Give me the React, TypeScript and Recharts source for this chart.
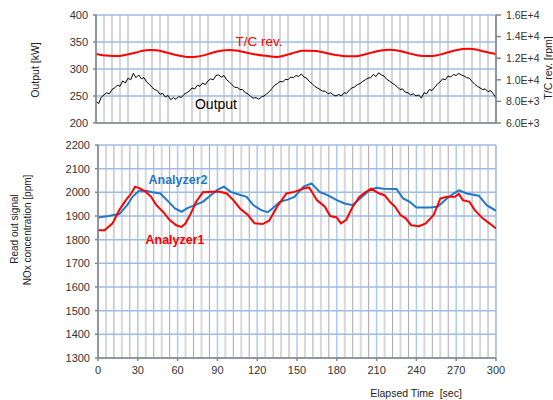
import React from 'react';
import { LineChart, Line, XAxis, YAxis, CartesianGrid } from 'recharts';

const FONT = '"Liberation Sans", Arial, Helvetica, sans-serif';

// ---- tick / grid positions (seconds, values) ----
const timeTicks = [0, 30, 60, 90, 120, 150, 180, 210, 240, 270, 300];
const minorLightTimes = [6, 18, 36, 48, 66, 78, 96, 108, 126, 138, 156, 168, 186, 198, 216, 228, 246, 258, 276, 288];
const minorDarkTimes = [12, 24, 42, 54, 72, 84, 102, 114, 132, 144, 162, 174, 192, 204, 222, 234, 252, 264, 282, 294];
const outputTicks = [200, 250, 300, 350, 400];
const rpmTicks = [6000, 8000, 10000, 12000, 14000, 16000];
const rpmTickLabels = ['6.0E+3', '8.0E+3', '1.0E+4', '1.2E+4', '1.4E+4', '1.6E+4'];
const noxTicks = [1300, 1400, 1500, 1600, 1700, 1800, 1900, 2000, 2100, 2200];

// ---- top chart: Output [kW], sampled every 2 s ----
const outputStep = 2;
const outputValues = [
  240, 236, 248, 252, 256, 254, 262, 265, 270, 268,
  278, 274, 283, 280, 292, 284, 289, 282, 284, 276,
  272, 266, 262, 260, 253, 255, 248, 251, 243, 247,
  244, 249, 247, 253, 256, 259, 265, 263, 270, 268,
  274, 271, 278, 282, 280, 288, 289, 285, 288, 280,
  276, 271, 266, 266, 262, 262, 256, 254, 249, 246,
  247, 244, 248, 250, 254, 258, 264, 270, 273, 277,
  276, 281, 280, 285, 284, 288, 286, 291, 285, 283,
  277, 273, 268, 265, 262, 259, 259, 254, 256, 252,
  250, 253, 250, 256, 255, 261, 265, 267, 271, 273,
  277, 280, 283, 284, 290, 286, 293, 289, 287, 281,
  278, 274, 271, 267, 262, 263, 257, 256, 252, 254,
  250, 252, 246, 256, 254, 262, 260, 266, 272, 276,
  282, 280, 287, 285, 290, 288, 292, 289, 287, 284,
  283, 277, 272, 268, 265, 262, 263, 258, 260, 254,
  246,
];

// ---- top chart: T/C rev. [rpm], sampled every 5 s ----
const tcRevStep = 5;
const tcRevValues = [
  12390, 12280, 12220, 12200, 12250, 12380, 12520, 12680, 12760, 12740,
  12620, 12450, 12300, 12180, 12110, 12130, 12240, 12420, 12600, 12720,
  12760, 12720, 12600, 12460, 12340, 12240, 12170, 12120, 12200, 12380,
  12560, 12680, 12700, 12660, 12560, 12420, 12300, 12210, 12170, 12190,
  12300, 12460, 12620, 12740, 12790, 12740, 12600, 12440, 12300, 12210,
  12200, 12260, 12400, 12580, 12740, 12850, 12880, 12800, 12640, 12500,
  12390,
];

// ---- bottom chart: NOx analyzers [ppm] ----
const analyzer1Times = [0, 5, 11, 16, 21, 25, 28, 32, 36, 40, 44, 49, 54, 59, 63, 66, 70, 74, 79, 87, 92, 97, 102, 107, 113, 118, 124, 129, 135, 142, 148, 155, 159, 162, 165, 171, 175, 180, 183, 187, 192, 197, 202, 206, 212, 216, 220, 224, 228, 232, 236, 242, 247, 253, 258, 263, 269, 272, 275, 280, 284, 290, 295, 300];
const analyzer1Values = [1840, 1840, 1869, 1925, 1967, 1995, 2024, 2016, 2002, 1981, 1946, 1918, 1883, 1861, 1854, 1869, 1911, 1960, 2000, 2002, 2002, 1995, 1967, 1932, 1904, 1869, 1866, 1880, 1939, 1995, 2002, 2016, 2021, 1995, 1967, 1939, 1900, 1894, 1869, 1883, 1939, 1981, 2002, 2015, 1995, 1988, 1960, 1939, 1904, 1890, 1861, 1857, 1869, 1904, 1974, 1981, 1981, 1993, 1967, 1960, 1925, 1890, 1869, 1847];
const analyzer2Times = [0, 8, 16, 22, 26, 31, 36, 41, 47, 52, 58, 63, 67, 73, 79, 85, 90, 95, 100, 105, 112, 117, 123, 128, 133, 137, 143, 148, 155, 161, 167, 173, 180, 186, 192, 199, 205, 210, 215, 225, 230, 235, 240, 250, 256, 263, 268, 272, 278, 287, 293, 300];
const analyzer2Values = [1894, 1900, 1908, 1946, 1981, 2007, 2007, 2000, 1995, 1967, 1932, 1918, 1932, 1946, 1960, 1988, 2010, 2024, 2002, 1993, 1981, 1946, 1925, 1916, 1939, 1960, 1969, 1981, 2024, 2038, 2002, 1988, 1967, 1953, 1946, 1981, 2010, 2019, 2015, 2014, 1974, 1960, 1936, 1936, 1939, 1974, 1995, 2008, 1995, 1986, 1946, 1922];

const outputData = outputValues.map((v, i) => ({ t: i * outputStep, v }));
const tcRevData = tcRevValues.map((v, i) => ({ t: i * tcRevStep, v }));
const analyzer1Data = analyzer1Values.map((v, i) => ({ t: analyzer1Times[i], v }));
const analyzer2Data = analyzer2Values.map((v, i) => ({ t: analyzer2Times[i], v }));

const AXIS = '#868686';
const GRID_H = '#9bbde6';
const GRID_MAJOR = '#afcbeb';
const GRID_LIGHT = '#d8d8d8';
const GRID_DARK = '#a9a9a9';
const TICK = { fill: '#333', fontSize: 11, fontFamily: FONT };

const rpmFmt = (v: number) => {
  const i = rpmTicks.indexOf(v);
  return i >= 0 ? rpmTickLabels[i] : String(v);
};

export default function App() {
  return (
    <div style={{ position: 'absolute', left: 0, top: 0, width: 553, height: 400, background: '#fff', fontFamily: FONT }}>
      <div style={{ position: 'absolute', left: 0, top: 0 }}>
        <LineChart width={553} height={140} margin={{ top: 15, right: 7, bottom: 15, left: 46 }}>
          <XAxis xAxisId="minA" type="number" dataKey="t" domain={[0, 300]} ticks={minorLightTimes} interval={0} hide allowDataOverflow />
          <XAxis xAxisId="minB" type="number" dataKey="t" domain={[0, 300]} ticks={minorDarkTimes} interval={0} hide allowDataOverflow />
          <CartesianGrid xAxisId="minA" yAxisId="left" horizontal={false} stroke={GRID_LIGHT} strokeWidth={2} />
          <CartesianGrid xAxisId="minB" yAxisId="left" horizontal={false} stroke={GRID_DARK} strokeWidth={1} />
          <CartesianGrid xAxisId={0} yAxisId="left" horizontal={false} stroke={GRID_MAJOR} strokeWidth={1.5} />
          <CartesianGrid xAxisId={0} yAxisId="left" vertical={false} stroke={GRID_H} strokeWidth={1.5} />
          <XAxis xAxisId={0} type="number" dataKey="t" domain={[0, 300]} ticks={timeTicks} interval={0} tick={false} tickLine={false} height={2} stroke={AXIS} strokeWidth={1.5} allowDataOverflow />
          <XAxis xAxisId="top" orientation="top" type="number" dataKey="t" domain={[0, 300]} ticks={timeTicks} interval={0} tick={false} tickLine={false} height={0} stroke={AXIS} strokeWidth={1.5} allowDataOverflow />
          <YAxis yAxisId="left" type="number" domain={[200, 400]} ticks={outputTicks} interval={0} width={50} tickSize={3} tickMargin={5} tick={TICK} stroke={AXIS} strokeWidth={1.5} allowDataOverflow />
          <YAxis yAxisId="right" orientation="right" type="number" domain={[6000, 16000]} ticks={rpmTicks} interval={0} tickFormatter={rpmFmt} width={50} tickSize={5} tickMargin={5} tick={{ ...TICK, fontSize: 10.5 }} stroke={AXIS} strokeWidth={1.5} allowDataOverflow />
          <Line xAxisId={0} yAxisId="right" data={tcRevData} dataKey="v" type="monotone" stroke="#ff0000" strokeWidth={2} dot={false} isAnimationActive={false} />
          <Line xAxisId={0} yAxisId="left" data={outputData} dataKey="v" type="linear" stroke="#000000" strokeWidth={1} dot={false} isAnimationActive={false} />
        </LineChart>
      </div>
      <div style={{ position: 'absolute', left: 0, top: 130 }}>
        <LineChart width={553} height={270} margin={{ top: 15, right: 57, bottom: 12, left: 48 }}>
          <XAxis xAxisId="minA" type="number" dataKey="t" domain={[0, 300]} ticks={minorLightTimes} interval={0} hide allowDataOverflow />
          <XAxis xAxisId="minB" type="number" dataKey="t" domain={[0, 300]} ticks={minorDarkTimes} interval={0} hide allowDataOverflow />
          <CartesianGrid xAxisId="minA" yAxisId={0} horizontal={false} stroke={GRID_LIGHT} strokeWidth={2} />
          <CartesianGrid xAxisId="minB" yAxisId={0} horizontal={false} stroke={GRID_DARK} strokeWidth={1} />
          <CartesianGrid xAxisId={0} yAxisId={0} horizontal={false} stroke={GRID_MAJOR} strokeWidth={1.5} />
          <CartesianGrid xAxisId={0} yAxisId={0} vertical={false} stroke={GRID_H} strokeWidth={1.5} />
          <XAxis xAxisId={0} type="number" dataKey="t" domain={[0, 300]} ticks={timeTicks} interval={0} height={30} tickSize={3} tickMargin={5} tick={TICK} stroke={AXIS} strokeWidth={1.5} allowDataOverflow />
          <XAxis xAxisId="top" orientation="top" type="number" dataKey="t" domain={[0, 300]} ticks={timeTicks} interval={0} tick={false} tickLine={false} height={0} stroke={AXIS} strokeWidth={1.5} allowDataOverflow />
          <YAxis yAxisId={0} type="number" domain={[1300, 2200]} ticks={noxTicks} interval={0} width={50} tickSize={3} tickMargin={5} tick={TICK} stroke={AXIS} strokeWidth={1.5} allowDataOverflow />
          <YAxis yAxisId="rb" orientation="right" type="number" domain={[1300, 2200]} ticks={noxTicks} interval={0} tick={false} tickLine={false} width={0} stroke={AXIS} strokeWidth={1.5} allowDataOverflow />
          <Line xAxisId={0} yAxisId={0} data={analyzer2Data} dataKey="v" type="linear" stroke="#1f78c8" strokeWidth={2} dot={false} isAnimationActive={false} />
          <Line xAxisId={0} yAxisId={0} data={analyzer1Data} dataKey="v" type="linear" stroke="#ff0000" strokeWidth={2} dot={false} isAnimationActive={false} />
        </LineChart>
      </div>
      <svg width={553} height={400} style={{ position: 'absolute', left: 0, top: 0, pointerEvents: 'none' }}>
        <text transform="translate(35,70) rotate(-90)" textAnchor="middle" dominantBaseline="central" fontSize={10.5} fill="#222" fontFamily={FONT}>Output [kW]</text>
        <text transform="translate(548,68) rotate(-90)" textAnchor="middle" dominantBaseline="central" fontSize={10.5} fill="#222" fontFamily={FONT}>T/C rev. [rpm]</text>
        <text transform="translate(14,229) rotate(-90)" textAnchor="middle" dominantBaseline="central" fontSize={10} fill="#222" fontFamily={FONT}>Read out signal</text>
        <text transform="translate(27,230) rotate(-90)" textAnchor="middle" dominantBaseline="central" fontSize={10} fill="#222" fontFamily={FONT}>NOx concentration [ppm]</text>
        <text x={416} y={393} textAnchor="middle" dominantBaseline="central" fontSize={10.5} fill="#222" fontFamily={FONT} style={{ whiteSpace: 'pre' }}>{'Elapsed Time  [sec]'}</text>
        <text x={259} y={41} textAnchor="middle" dominantBaseline="central" fontSize={13.5} fill="#ff0000" fontFamily={FONT}>T/C rev.</text>
        <text x={216} y={104} textAnchor="middle" dominantBaseline="central" fontSize={14} fill="#000" fontFamily={FONT}>Output</text>
        <text x={178} y={180} textAnchor="middle" dominantBaseline="central" fontSize={12.5} fontWeight="bold" fill="#1f78c8" fontFamily={FONT}>Analyzer2</text>
        <text x={175} y={240} textAnchor="middle" dominantBaseline="central" fontSize={12.5} fontWeight="bold" fill="#ff0000" fontFamily={FONT}>Analyzer1</text>
      </svg>
    </div>
  );
}
